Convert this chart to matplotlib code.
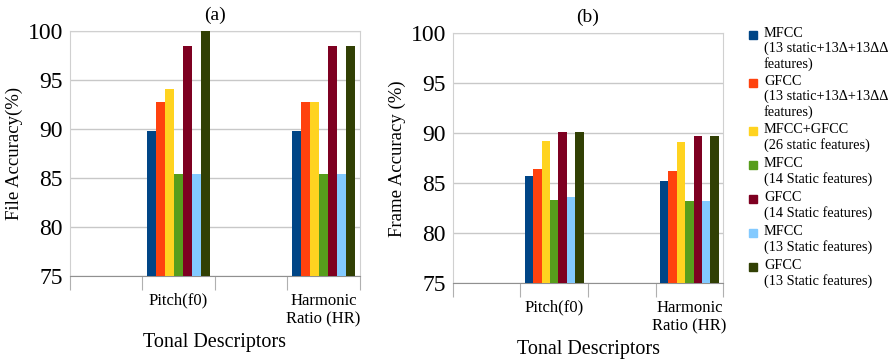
import numpy as np
import matplotlib

matplotlib.use("Agg")
import matplotlib.pyplot as plt
from matplotlib.patches import Rectangle

plt.rcParams["font.family"] = ["Liberation Serif", "DejaVu Serif"]

# ─────────────────────────────────────────────
# DATA
# ─────────────────────────────────────────────
categories = ["", "Pitch(f0)", "", "Harmonic\nRatio (HR)"]
series_labels = [
    "MFCC\n(13 static+13Δ+13ΔΔ\nfeatures)",
    "GFCC\n(13 static+13Δ+13ΔΔ\nfeatures)",
    "MFCC+GFCC\n(26 static features)",
    "MFCC\n(14 Static features)",
    "GFCC\n(14 Static features)",
    "MFCC\n(13 Static features)",
    "GFCC\n(13 Static features)",
]
colors = ["#004586", "#ff420e", "#ffd320", "#579d1c", "#7e0021", "#83caff", "#314004"]

# rows = series, columns = categories (empty slots have no bars)
file_acc = [
    [None, 89.8, None, 89.8],
    [None, 92.7, None, 92.7],
    [None, 94.1, None, 92.7],
    [None, 85.4, None, 85.4],
    [None, 98.5, None, 98.5],
    [None, 85.4, None, 85.4],
    [None, 100.0, None, 98.5],
]
frame_acc = [
    [None, 85.7, None, 85.2],
    [None, 86.4, None, 86.2],
    [None, 89.2, None, 89.1],
    [None, 83.3, None, 83.2],
    [None, 90.1, None, 89.7],
    [None, 83.6, None, 83.2],
    [None, 90.1, None, 89.7],
]

Y_MIN, Y_MAX = 75, 100

# legend layout (figure pixels, from top-left)
LEG_X, LEG_Y0 = 749, 35
LEG_SQ = 8
LINE_PX, GAP_PX = 14, 6


def draw_panel(ax, values, ylabel, title):
    n = len(values)
    group_w = 0.875
    bw = group_w / n
    x = np.arange(len(categories))
    for i, (vals, c) in enumerate(zip(values, colors)):
        xs = [x[j] for j, v in enumerate(vals) if v is not None]
        hs = [v - Y_MIN for v in vals if v is not None]
        offs = -group_w / 2 + bw * (i + 0.5)
        ax.bar(np.array(xs) + offs, hs, bw, bottom=Y_MIN, color=c, zorder=3)

    ax.set_xlim(-0.5, len(categories) - 0.5)
    ax.set_ylim(Y_MIN, Y_MAX)
    ax.set_yticks(np.arange(Y_MIN, Y_MAX + 1, 5))
    ax.yaxis.grid(True, color="#c8c8c8", lw=1, zorder=0)
    ax.tick_params(axis="y", length=0, labelsize=17, pad=5)

    # boundaries as major ticks, labels at category centres
    ax.set_xticks(np.arange(-0.5, len(categories)), labels=[])
    ax.set_xticks(x, labels=categories, minor=True)
    ax.tick_params(axis="x", which="major", length=10, color="#b0b0b0")
    ax.tick_params(axis="x", which="minor", length=0, labelsize=12, pad=12)

    for side in ["top", "right", "left"]:
        ax.spines[side].set_color("#d0d0d0")
    ax.spines["bottom"].set_color("#909090")

    ax.set_ylabel(ylabel, fontsize=13.5, labelpad=3)
    ax.set_xlabel("Tonal Descriptors", fontsize=14.5, labelpad=4)
    ax.set_title(title, fontsize=14, pad=8)


fig = plt.figure(figsize=(8.95, 3.63), dpi=100)
ax_a = fig.add_axes([0.078, 0.240, 0.324, 0.675])
ax_b = fig.add_axes([0.506, 0.220, 0.302, 0.688])

draw_panel(ax_a, file_acc, "File Accuracy(%)", "(a)")
draw_panel(ax_b, frame_acc, "Frame Accuracy (%)", "(b)")

# legend drawn in figure pixel space so that the swatch sits on the first line
W, H = fig.get_size_inches() * fig.dpi
ax_leg = fig.add_axes([0, 0, 1, 1], zorder=-1)
ax_leg.set_xlim(0, W)
ax_leg.set_ylim(H, 0)
ax_leg.axis("off")

y = LEG_Y0
for lab, c in zip(series_labels, colors):
    ax_leg.add_patch(Rectangle((LEG_X, y - LEG_SQ / 2), LEG_SQ, LEG_SQ, color=c))
    ax_leg.text(LEG_X + LEG_SQ + 7, y - 8, lab, fontsize=10.3, va="top",
                ha="left", linespacing=1.15)
    y += LINE_PX * (lab.count("\n") + 1) + GAP_PX

fig.savefig("out.png", dpi=100)
